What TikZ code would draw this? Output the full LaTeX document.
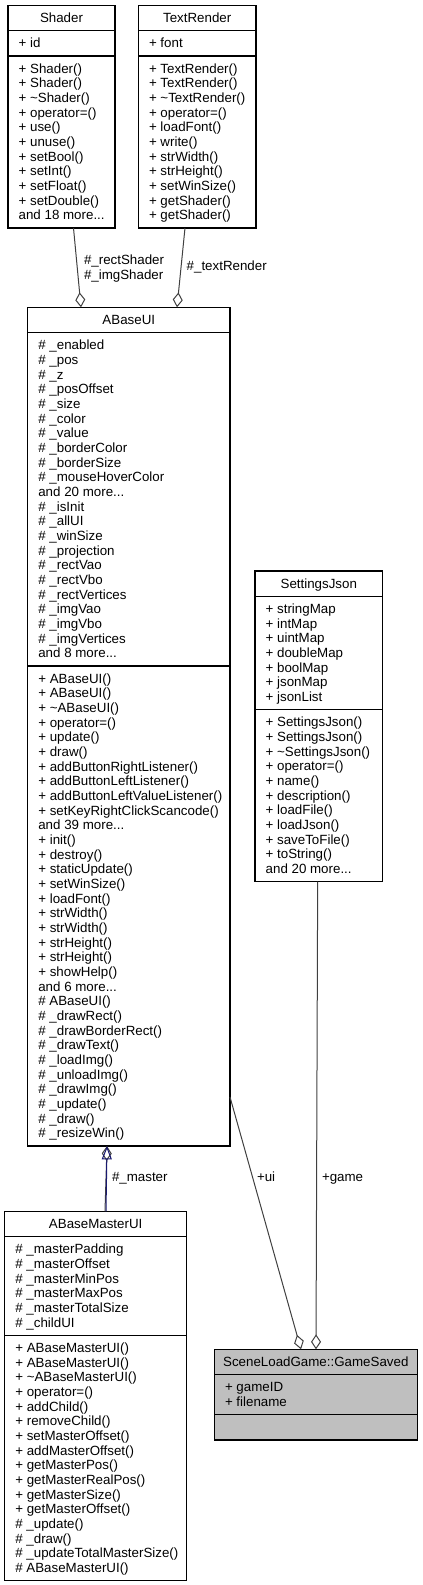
\documentclass[tikz,border=0pt]{standalone}
\usepackage{fontspec}
\setmainfont{Liberation Sans}
\usetikzlibrary{arrows.meta,fit,calc}
\definecolor{grey25}{HTML}{404040}
\definecolor{grey75}{HTML}{BFBFBF}
\definecolor{midblue}{HTML}{191970}
\newcommand\mre{...}
\newcommand\rowlist[4]{\foreach \t [count=\i from 0] in {#4} {\node[txt] (#1\i) at ({#2},{#3+\i*14.667+4.5}) {\t};}}
\tikzset{
  cls/.style={draw=black, line width=0.9pt, inner sep=0pt, outer sep=0pt, fill=white},
  sepline/.style={draw=black, line width=0.9pt},
  txt/.style={anchor=base west, inner sep=0pt, outer sep=0pt, font=\fontsize{10}{11}\selectfont},
  ttl/.style={anchor=base, inner sep=0pt, outer sep=0pt, font=\fontsize{10}{11}\selectfont},
  coll/.style={draw=grey25, line width=0.75pt, -{Diamond[open,length=11.25pt,width=7.5pt]}},
  inher/.style={draw=midblue, line width=0.75pt, -{Triangle[open,length=10pt,width=7.5pt]}},
}
\begin{document}
\begin{tikzpicture}[x=0.75pt,y=-0.75pt]
\useasboundingbox (0,0) rectangle (423,1585);

% ---------- Shader ----------
\coordinate (shTL) at (8,5.33);
\coordinate (shBR) at (115,228);
\node[cls, fit=(shTL)(shBR)] (shader) {};
\draw[sepline] (8,30.67) -- (115,30.67);
\draw[sepline] (8,56) -- (115,56);
\node[ttl] (shaderT) at (61.5,22.5) {Shader};
\rowlist{sha}{18.67}{43.33}{+ id}
\rowlist{shm}{18.67}{68.67}{+ Shader(), + Shader(), + \textasciitilde Shader(), + operator=(), + use(), + unuse(), + setBool(), + setInt(), + setFloat(), + setDouble(), and 18 more\mre}

% ---------- TextRender ----------
\coordinate (trTL) at (138.33,5.33);
\coordinate (trBR) at (256,228);
\node[cls, fit=(trTL)(trBR)] (textrender) {};
\draw[sepline] (138.33,30.67) -- (256,30.67);
\draw[sepline] (138.33,56) -- (256,56);
\node[ttl] (textrenderT) at (197.2,22.5) {TextRender};
\rowlist{tra}{149}{43.33}{+ font}
\rowlist{trm}{149}{68.67}{+ TextRender(), + TextRender(), + \textasciitilde TextRender(), + operator=(), + loadFont(), + write(), + strWidth(), + strHeight(), + setWinSize(), + getShader(), + getShader()}

% ---------- ABaseUI ----------
\coordinate (abTL) at (27.67,307.33);
\coordinate (abBR) at (230,1146);
\node[cls, fit=(abTL)(abBR)] (abaseui) {};
\draw[sepline] (27.67,332.67) -- (230,332.67);
\draw[sepline] (27.67,666) -- (230,666);
\node[ttl] (abaseuiT) at (128.8,324.5) {ABaseUI};
\rowlist{aba}{38.33}{345.33}{\# \_enabled, \# \_pos, \# \_z, \# \_posOffset, \# \_size, \# \_color, \# \_value, \# \_borderColor, \# \_borderSize, \# \_mouseHoverColor, and 20 more\mre, \# \_isInit, \# \_allUI, \# \_winSize, \# \_projection, \# \_rectVao, \# \_rectVbo, \# \_rectVertices, \# \_imgVao, \# \_imgVbo, \# \_imgVertices, and 8 more\mre}
\rowlist{abm}{38.33}{678.67}{+ ABaseUI(), + ABaseUI(), + \textasciitilde ABaseUI(), + operator=(), + update(), + draw(), + addButtonRightListener(), + addButtonLeftListener(), + addButtonLeftValueListener(), + setKeyRightClickScancode(), and 39 more\mre, + init(), + destroy(), + staticUpdate(), + setWinSize(), + loadFont(), + strWidth(), + strWidth(), + strHeight(), + strHeight(), + showHelp(), and 6 more\mre, \# ABaseUI(), \# \_drawRect(), \# \_drawBorderRect(), \# \_drawText(), \# \_loadImg(), \# \_unloadImg(), \# \_drawImg(), \# \_update(), \# \_draw(), \# \_resizeWin()}

% ---------- SettingsJson ----------
\coordinate (sjTL) at (255,571);
\coordinate (sjBR) at (382.67,881.67);
\node[cls, fit=(sjTL)(sjBR)] (settingsjson) {};
\draw[sepline] (255,596.33) -- (382.67,596.33);
\draw[sepline] (255,709.67) -- (382.67,709.67);
\node[ttl] (settingsjsonT) at (318.8,588.2) {SettingsJson};
\rowlist{sja}{265.67}{609}{+ stringMap, + intMap, + uintMap, + doubleMap, + boolMap, + jsonMap, + jsonList}
\rowlist{sjm}{265.67}{722.33}{+ SettingsJson(), + SettingsJson(), + \textasciitilde SettingsJson(), + operator=(), + name(), + description(), + loadFile(), + loadJson(), + saveToFile(), + toString(), and 20 more\mre}

% ---------- ABaseMasterUI ----------
\coordinate (amTL) at (4.67,1211.33);
\coordinate (amBR) at (186.67,1580.67);
\node[cls, fit=(amTL)(amBR)] (abasemasterui) {};
\draw[sepline] (4.67,1236.67) -- (186.67,1236.67);
\draw[sepline] (4.67,1335.33) -- (186.67,1335.33);
\node[ttl] (abasemasteruiT) at (95.67,1228.5) {ABaseMasterUI};
\rowlist{ama}{15.33}{1249.33}{\# \_masterPadding, \# \_masterOffset, \# \_masterMinPos, \# \_masterMaxPos, \# \_masterTotalSize, \# \_childUI}
\rowlist{amm}{15.33}{1348}{+ ABaseMasterUI(), + ABaseMasterUI(), + \textasciitilde ABaseMasterUI(), + operator=(), + addChild(), + removeChild(), + setMasterOffset(), + addMasterOffset(), + getMasterPos(), + getMasterRealPos(), + getMasterSize(), + getMasterOffset(), \# \_update(), \# \_draw(), \# \_updateTotalMasterSize(), \# ABaseMasterUI()}

% ---------- SceneLoadGame::GameSaved ----------
\coordinate (gsTL) at (214.33,1349.33);
\coordinate (gsBR) at (417.33,1440);
\node[cls, fill=grey75, fit=(gsTL)(gsBR)] (gamesaved) {};
\draw[sepline] (214.33,1374.67) -- (417.33,1374.67);
\draw[sepline] (214.33,1414.67) -- (417.33,1414.67);
\node[ttl] (gamesavedT) at (315.8,1366.5) {SceneLoadGame::GameSaved};
\rowlist{gsa}{225}{1387.33}{+ gameID, + filename}

% ---------- connectors ----------
\draw[coll] ($(shader.south west)+(65.5,0)$) -- ($(abaseui.north west)+(53.33,0)$);
\node[txt] (lblrect) at (84,264.5) {\#\_rectShader};
\node[txt] (lblimg) at (84,279.2) {\#\_imgShader};

\draw[coll] ($(textrender.south west)+(46.67,0)$) -- ($(abaseui.north west)+(149.33,0)$);
\node[txt] (lbltext) at (186.7,270.5) {\#\_textRender};

\draw[coll] ($(abasemasterui.north west)+(100.33,0)$) -- ($(abaseui.south west)+(79.33,0)$);
\draw[inher] ($(abasemasterui.north west)+(101.33,0)$) -- ($(abaseui.south west)+(79.33,0)$);
\node[txt] (lblmaster) at (112,1181.5) {\#\_master};

\draw[coll] ($(abaseui.north east)+(0,789.67)$) -- ($(gamesaved.north west)+(86.67,0)$);
\node[txt] (lblui) at (257,1181.5) {+ui};

\draw[coll] ($(settingsjson.south west)+(62.67,0)$) -- ($(gamesaved.north west)+(101.67,0)$);
\node[txt] (lblgame) at (322,1181.5) {+game};
\end{tikzpicture}
\end{document}
